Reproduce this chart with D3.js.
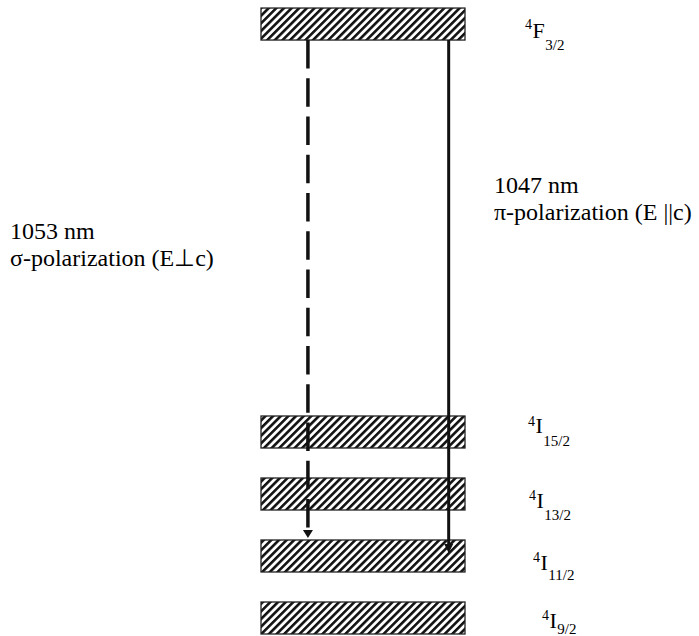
<!DOCTYPE html>
<html>
<head>
<meta charset="utf-8">
<script src="https://cdn.jsdelivr.net/npm/d3@7"></script>
</head>
<body style="margin:0">
<svg id="chart" width="699" height="636"></svg>
<script>
// ---- data ----
const levelTerm = ["F", "I", "I", "I", "I"];
const levelMult = ["4", "4", "4", "4", "4"];
const levelJ = ["3/2", "15/2", "13/2", "11/2", "9/2"];
const levelPos = [9.58, 3, 2, 1, 0];          // diagram position (not to scale)

const transFrom = [0, 0];
const transTo = [3, 3];
const transWavelength = ["1053 nm", "1047 nm"];
const transPolarization = ["σ-polarization (E⊥c)", "π-polarization (E ||c)"];

// ---- layout ----
const svg = d3.select("#chart");
const y = d3.scaleLinear().domain([0, 10]).range([618, -2]);
const x = d3.scaleLinear().domain([0, 1]).range([261, 465]);
const barHalf = 16;
const labelX = [525, 528, 529, 533, 542];
const labelBaseOff = [14, 1, 14, 14, 10];      // baseline offset from level centre
const labelSupOff = [-9, -7, -8, -8, -8];
const labelSubOff = [12, 13, 12, 10, 6];
const transX = [0.23, 0.92];
const transDash = ["28.5,9.75", null];
const transWidth = [3.5, 3];
const transTipOff = [-18, -3];                 // tip offset from target level centre
const transHead = [[10, 8], [9, 9]];           // [width, height]
const textPos = [[10, 239], [494, 193]];
// Liberation Serif advance widths (em) for label pieces
const advance = { "4": 0.5, "F": 0.556, "I": 0.333 };

function label(px, py, size, txt) {
  return svg.append("text")
    .attr("x", px).attr("y", py)
    .attr("font-size", size)
    .style("font-family", `"Liberation Serif"`)
    .text(txt);
}

// texts first
levelPos.forEach((p, i) => {
  const base = y(p) + labelBaseOff[i];
  label(labelX[i], base + labelSupOff[i], 14, levelMult[i]);
  const x1 = labelX[i] + advance[levelMult[i]] * 14 + 0.5;
  label(x1, base, 22, levelTerm[i]);
  const x2 = x1 + advance[levelTerm[i]] * 22 + 0.5;
  label(x2, base + labelSubOff[i], 15, levelJ[i]);
});
transFrom.forEach((f, i) => {
  label(textPos[i][0], textPos[i][1], 24, transWavelength[i]);
  label(textPos[i][0], textPos[i][1] + 27, 24, transPolarization[i]);
});

// hatch pattern
const defs = svg.append("defs");
const pat = defs.append("pattern")
  .attr("id", "hatch")
  .attr("patternUnits", "userSpaceOnUse")
  .attr("width", 5.4).attr("height", 10)
  .attr("patternTransform", "rotate(45)");
pat.append("rect").attr("width", 5.4).attr("height", 10).attr("fill", "#fff");
pat.append("rect").attr("x", 0).attr("width", 2.6).attr("height", 10).attr("fill", "#111");

// bars
svg.selectAll("rect.level")
  .data(levelPos)
  .join("rect")
  .attr("class", "level")
  .attr("x", x(0))
  .attr("y", d => y(d) - barHalf)
  .attr("width", x(1) - x(0))
  .attr("height", barHalf * 2)
  .attr("fill", "url(#hatch)")
  .attr("stroke", "#222")
  .attr("stroke-width", 1.3);

// transitions
transFrom.forEach((f, i) => {
  const xx = x(transX[i]);
  const y0 = y(levelPos[f]) + barHalf;
  const tip = y(levelPos[transTo[i]]) + transTipOff[i];
  const [hw, hh] = transHead[i];
  const line = svg.append("line")
    .attr("x1", xx).attr("x2", xx)
    .attr("y1", y0).attr("y2", tip - hh + 1)
    .attr("stroke", "#111")
    .attr("stroke-width", transWidth[i]);
  if (transDash[i]) line.attr("stroke-dasharray", transDash[i]);
  svg.append("path")
    .attr("d", `M${xx - hw / 2},${tip - hh}L${xx + hw / 2},${tip - hh}L${xx},${tip}Z`)
    .attr("fill", "#111");
});

d3.select("body").append("div")
  .style("font-family", "Liberation Serif")
  .style("font-size", "1px")
  .style("height", "0")
  .style("overflow", "hidden")
  .html("&#8203;");
</script>
</body>
</html>
